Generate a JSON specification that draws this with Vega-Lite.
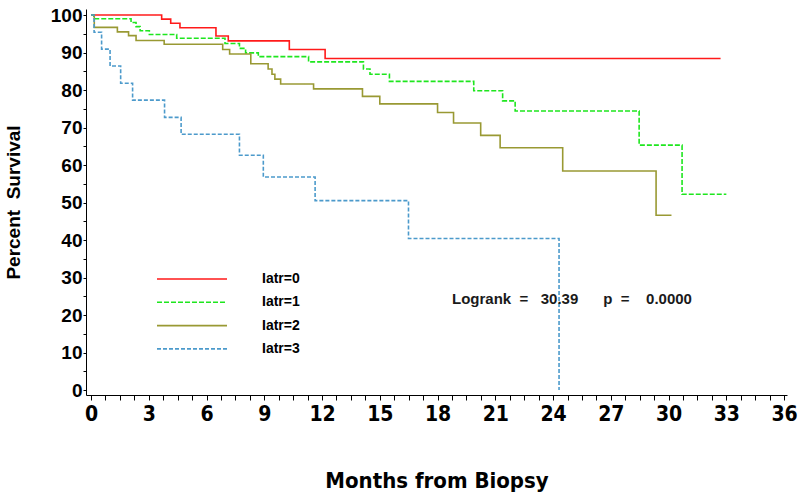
{
  "$schema": "https://vega.github.io/schema/vega-lite/v6.json",
  "width": 701,
  "height": 386,
  "autosize": {"type": "none"},
  "padding": {"left": 86, "top": 9, "right": 13, "bottom": 102},
  "background": "white",
  "config": {
    "view": {"stroke": null},
    "axis": {"grid": false, "domainColor": "black", "tickColor": "black", "labelColor": "black", "titleColor": "black", "domainWidth": 1, "tickWidth": 1},
    "legend": {
      "orient": "none", "legendX": 70, "legendY": 263,
      "symbolType": "stroke", "symbolSize": 4900, "symbolStrokeWidth": 1.6,
      "clipHeight": 14, "rowPadding": 9.3, "labelOffset": 34,
      "labelFont": "Liberation Sans", "labelFontSize": 14, "labelFontWeight": "bold", "labelColor": "black",
      "padding": 0
    }
  },
  "datasets": {
    "km": [
      {"group": "Iatr=0", "month": 0, "survival": 100},
      {"group": "Iatr=0", "month": 3.67, "survival": 98.9},
      {"group": "Iatr=0", "month": 4.14, "survival": 97.8},
      {"group": "Iatr=0", "month": 4.62, "survival": 96.6},
      {"group": "Iatr=0", "month": 6.49, "survival": 94.4},
      {"group": "Iatr=0", "month": 7.13, "survival": 93.1},
      {"group": "Iatr=0", "month": 10.3, "survival": 90.8},
      {"group": "Iatr=0", "month": 12.16, "survival": 88.4},
      {"group": "Iatr=0", "month": 32.7, "survival": 88.4},
      {"group": "Iatr=1", "month": 0, "survival": 100},
      {"group": "Iatr=1", "month": 0.15, "survival": 99.0},
      {"group": "Iatr=1", "month": 2.08, "survival": 98.0},
      {"group": "Iatr=1", "month": 2.34, "survival": 96.9},
      {"group": "Iatr=1", "month": 2.55, "survival": 95.8},
      {"group": "Iatr=1", "month": 3.03, "survival": 94.8},
      {"group": "Iatr=1", "month": 4.45, "survival": 93.8},
      {"group": "Iatr=1", "month": 6.96, "survival": 92.4},
      {"group": "Iatr=1", "month": 7.71, "survival": 91.1},
      {"group": "Iatr=1", "month": 8.03, "survival": 89.9},
      {"group": "Iatr=1", "month": 8.69, "survival": 88.9},
      {"group": "Iatr=1", "month": 11.3, "survival": 87.5},
      {"group": "Iatr=1", "month": 14.15, "survival": 85.6},
      {"group": "Iatr=1", "month": 14.49, "survival": 84.2},
      {"group": "Iatr=1", "month": 15.5, "survival": 82.3},
      {"group": "Iatr=1", "month": 19.88, "survival": 79.8},
      {"group": "Iatr=1", "month": 21.38, "survival": 77.1},
      {"group": "Iatr=1", "month": 22.03, "survival": 74.4},
      {"group": "Iatr=1", "month": 28.47, "survival": 65.3},
      {"group": "Iatr=1", "month": 30.7, "survival": 52.2},
      {"group": "Iatr=1", "month": 33.0, "survival": 52.2},
      {"group": "Iatr=2", "month": 0, "survival": 100},
      {"group": "Iatr=2", "month": 0.17, "survival": 96.7},
      {"group": "Iatr=2", "month": 1.37, "survival": 95.5},
      {"group": "Iatr=2", "month": 1.95, "survival": 94.5},
      {"group": "Iatr=2", "month": 2.34, "survival": 93.2},
      {"group": "Iatr=2", "month": 3.8, "survival": 92.2},
      {"group": "Iatr=2", "month": 6.84, "survival": 90.8},
      {"group": "Iatr=2", "month": 7.2, "survival": 89.6},
      {"group": "Iatr=2", "month": 8.3, "survival": 87.0},
      {"group": "Iatr=2", "month": 9.2, "survival": 85.6},
      {"group": "Iatr=2", "month": 9.4, "survival": 84.2},
      {"group": "Iatr=2", "month": 9.55, "survival": 82.9},
      {"group": "Iatr=2", "month": 9.85, "survival": 81.6},
      {"group": "Iatr=2", "month": 11.56, "survival": 80.3},
      {"group": "Iatr=2", "month": 14.1, "survival": 78.3},
      {"group": "Iatr=2", "month": 15.0, "survival": 76.3},
      {"group": "Iatr=2", "month": 18.0, "survival": 74.0},
      {"group": "Iatr=2", "month": 18.83, "survival": 71.2},
      {"group": "Iatr=2", "month": 20.24, "survival": 67.9},
      {"group": "Iatr=2", "month": 21.25, "survival": 64.6},
      {"group": "Iatr=2", "month": 24.5, "survival": 58.4},
      {"group": "Iatr=2", "month": 29.35, "survival": 46.6},
      {"group": "Iatr=2", "month": 30.15, "survival": 46.6},
      {"group": "Iatr=3", "month": 0, "survival": 100},
      {"group": "Iatr=3", "month": 0.16, "survival": 95.4},
      {"group": "Iatr=3", "month": 0.55, "survival": 90.9},
      {"group": "Iatr=3", "month": 0.99, "survival": 86.4},
      {"group": "Iatr=3", "month": 1.54, "survival": 81.8},
      {"group": "Iatr=3", "month": 2.16, "survival": 77.3},
      {"group": "Iatr=3", "month": 3.82, "survival": 72.7},
      {"group": "Iatr=3", "month": 4.68, "survival": 68.2},
      {"group": "Iatr=3", "month": 7.71, "survival": 62.6},
      {"group": "Iatr=3", "month": 8.95, "survival": 56.8},
      {"group": "Iatr=3", "month": 11.64, "survival": 50.5},
      {"group": "Iatr=3", "month": 16.49, "survival": 40.4},
      {"group": "Iatr=3", "month": 24.31, "survival": 0}
    ],
    "note": [
      {"month": 18.75, "survival": 24.3, "label": "Logrank\u00a0\u00a0=\u00a0\u00a0\u00a030.39"},
      {"month": 26.6, "survival": 24.3, "label": "p\u00a0\u00a0=\u00a0\u00a0\u00a0\u00a00.0000"}
    ]
  },
  "encoding": {
    "x": {
      "field": "month", "type": "quantitative",
      "scale": {"domain": [-0.26, 36.15], "nice": false, "zero": false},
      "axis": {
        "values": [0,0.75,1.5,2.25,3,3.75,4.5,5.25,6,6.75,7.5,8.25,9,9.75,10.5,11.25,12,12.75,13.5,14.25,15,15.75,16.5,17.25,18,18.75,19.5,20.25,21,21.75,22.5,23.25,24,24.75,25.5,26.25,27,27.75,28.5,29.25,30,30.75,31.5,32.25,33,33.75,34.5,35.25,36],
        "labelExpr": "datum.value % 3 === 0 ? datum.value : ''",
        "tickSize": 5, "labelPadding": 3,
        "labelFont": "Liberation Sans Narrow, DejaVu Sans Condensed, Liberation Sans", "labelFontSize": 21, "labelFontWeight": "bold",
        "labelFlush": false, "labelOverlap": false,
        "title": "Months from Biopsy",
        "titleFont": "Liberation Sans Narrow, DejaVu Sans Condensed, Liberation Sans", "titleFontSize": 22, "titleFontWeight": "bold",
        "titlePadding": 46
      }
    },
    "y": {
      "field": "survival", "type": "quantitative",
      "scale": {"domain": [-1.33, 101.6], "nice": false, "zero": false},
      "axis": {
        "values": [0,5,10,15,20,25,30,35,40,45,50,55,60,65,70,75,80,85,90,95,100],
        "labelExpr": "datum.value % 10 === 0 ? datum.value : ''",
        "tickSize": 3, "labelPadding": 1,
        "labelFont": "Liberation Sans", "labelFontWeight": "bold", "labelFontSize": 19,
        "labelFlush": false, "labelOverlap": false,
        "title": "Percent\u00a0 Survival",
        "titleFont": "Liberation Sans", "titleFontSize": 19, "titleFontWeight": "bold",
        "titlePadding": 27
      }
    }
  },
  "layer": [
    {
      "data": {"name": "km"},
      "mark": {"type": "line", "interpolate": "step-after", "strokeWidth": 1.6},
      "encoding": {
        "color": {
          "field": "group", "type": "nominal",
          "scale": {"domain": ["Iatr=0", "Iatr=1", "Iatr=2", "Iatr=3"], "range": ["#ff1a1a", "#1ee61e", "#999933", "#4c9acb"]},
          "legend": {"title": null}
        },
        "strokeDash": {
          "field": "group", "type": "nominal",
          "scale": {"domain": ["Iatr=0", "Iatr=1", "Iatr=2", "Iatr=3"], "range": [[1, 0], [5, 2], [1, 0], [4, 2]]},
          "legend": {"title": null}
        }
      }
    },
    {
      "data": {"name": "note"},
      "mark": {"type": "text", "align": "left", "baseline": "middle", "font": "Liberation Sans", "fontSize": 15, "fontWeight": "bold", "color": "#1a1a1a"},
      "encoding": {
        "text": {"field": "label"}
      }
    }
  ]
}
